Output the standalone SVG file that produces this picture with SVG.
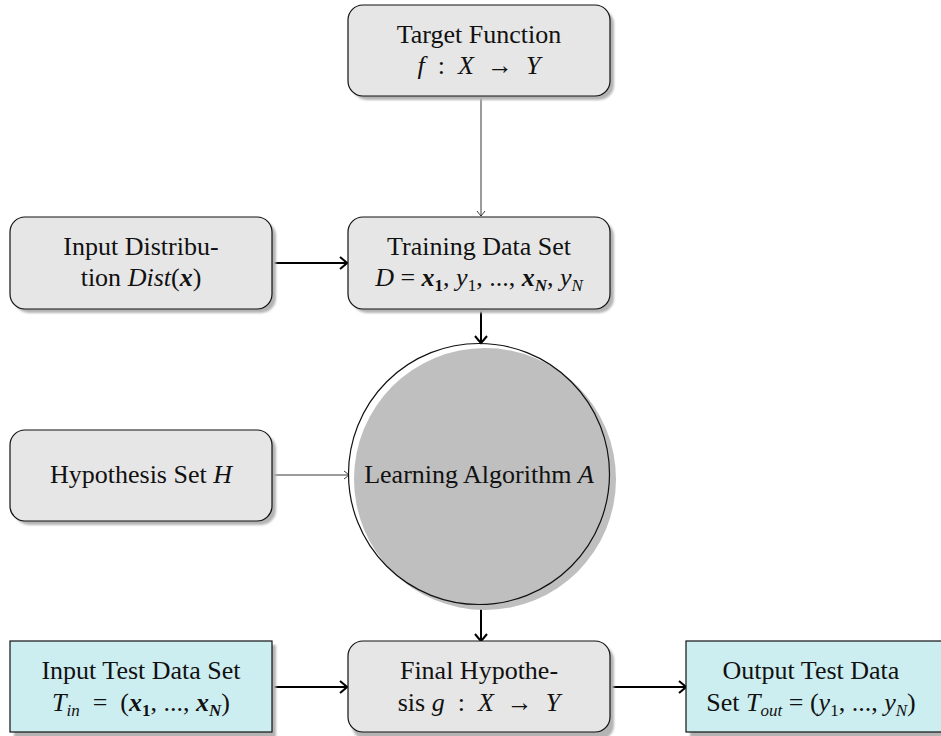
<svg xmlns="http://www.w3.org/2000/svg" width="941" height="736" viewBox="0 0 941 736">
  <defs>
    <style>
      text { font-family: "Liberation Serif", "DejaVu Serif", serif; font-size: 26px; fill: #111; text-anchor: middle; white-space: pre; }
      .it { font-style: italic; }
      .bi { font-style: italic; font-weight: bold; }
      .sub { font-size: 17px; }
      .box { fill: #e6e6e6; stroke: #111; stroke-width: 1.2; }
      .data { fill: #cdeef0; stroke: #111; stroke-width: 1.2; }
      .shadow { fill: #b4b4b4; filter: url(#soft); }
      .thick { stroke: #000; stroke-width: 2; fill: none; }
      .thin { stroke: #222; stroke-width: 0.9; fill: none; }
    </style>
    <filter id="soft" x="-5%" y="-5%" width="110%" height="110%">
      <feGaussianBlur stdDeviation="0.8"/>
    </filter>
    <marker id="headThick" viewBox="-10 -8 12 16" markerWidth="12" markerHeight="16" refX="0" refY="0" orient="auto" markerUnits="userSpaceOnUse">
      <path d="M-7,-6 Q-1.5,-1.5 0,0 Q-1.5,1.5 -7,6" stroke="#000" stroke-width="2" fill="none"/>
    </marker>
    <marker id="headThin" viewBox="-8 -6 10 12" markerWidth="10" markerHeight="12" refX="0" refY="0" orient="auto" markerUnits="userSpaceOnUse">
      <path d="M-5,-4 Q-1,-1 0,0 Q-1,1 -5,4" stroke="#222" stroke-width="0.9" fill="none"/>
    </marker>
  </defs>

  <rect width="941" height="736" fill="#fff"/>

  <!-- connectors -->
  <g id="connectors">
    <line class="thin" x1="481" y1="95" x2="481" y2="216" marker-end="url(#headThin)"/>
    <line class="thick" x1="271" y1="263" x2="347" y2="263" marker-end="url(#headThick)"/>
    <line class="thick" x1="481" y1="308" x2="481" y2="343" marker-end="url(#headThick)"/>
    <line class="thin" x1="271" y1="475" x2="349" y2="475" marker-end="url(#headThin)"/>
    <line class="thick" x1="481" y1="606" x2="481" y2="641" marker-end="url(#headThick)"/>
    <line class="thick" x1="271" y1="687" x2="347" y2="687" marker-end="url(#headThick)"/>
    <line class="thick" x1="610" y1="687" x2="686" y2="687" marker-end="url(#headThick)"/>
  </g>

  <!-- target function -->
  <g id="target">
    <rect class="shadow" x="352" y="9" width="262" height="91" rx="15"/>
    <rect class="box" x="348" y="5" width="262" height="91" rx="15"/>
    <text x="479" y="43">Target Function</text>
    <text x="479" y="74"><tspan class="it">f</tspan>  :  <tspan class="it">X</tspan>  →  <tspan class="it">Y</tspan></text>
  </g>

  <!-- input distribution -->
  <g id="input-distribution">
    <rect class="shadow" x="14" y="221" width="262" height="92" rx="15"/>
    <rect class="box" x="10" y="217" width="262" height="92" rx="15"/>
    <text x="141" y="255">Input Distribu-</text>
    <text x="141" y="286">tion <tspan class="it">Dist</tspan>(<tspan class="bi">x</tspan>)</text>
  </g>

  <!-- training data set -->
  <g id="training">
    <rect class="shadow" x="352" y="221" width="262" height="92" rx="15"/>
    <rect class="box" x="348" y="217" width="262" height="92" rx="15"/>
    <text x="479" y="255">Training Data Set</text>
    <text x="479" y="286"><tspan class="it">D</tspan> = <tspan class="bi">x</tspan><tspan class="sub" font-weight="bold" dy="5">1</tspan><tspan dy="-5">, </tspan><tspan class="it">y</tspan><tspan class="sub" dy="5">1</tspan><tspan dy="-5">, ..., </tspan><tspan class="bi">x</tspan><tspan class="sub bi" dy="5">N</tspan><tspan dy="-5">, </tspan><tspan class="it">y</tspan><tspan class="sub it" dy="5">N</tspan></text>
  </g>

  <!-- hypothesis set -->
  <g id="hypothesis-set">
    <rect class="shadow" x="14" y="434" width="262" height="91" rx="15"/>
    <rect class="box" x="10" y="430" width="262" height="91" rx="15"/>
    <text x="141" y="483">Hypothesis Set <tspan class="it">H</tspan></text>
  </g>

  <!-- learning algorithm -->
  <g id="learning">
    <circle cx="485" cy="479" r="131" fill="#bfbfbf"/>
    <circle cx="479" cy="474" r="130.5" fill="none" stroke="#111" stroke-width="1.2"/>
    <text x="479" y="483">Learning Algorithm <tspan class="it">A</tspan></text>
  </g>

  <!-- input test data -->
  <g id="input-test">
    <rect class="shadow" x="14" y="645" width="262" height="95"/>
    <rect class="data" x="10" y="641" width="262" height="91"/>
    <text x="141" y="679">Input Test Data Set</text>
    <text x="141" y="711"><tspan class="it">T</tspan><tspan class="sub it" dy="5">in</tspan><tspan dy="-5">  =  (</tspan><tspan class="bi">x</tspan><tspan class="sub" font-weight="bold" dy="5">1</tspan><tspan dy="-5">, ..., </tspan><tspan class="bi">x</tspan><tspan class="sub bi" dy="5">N</tspan><tspan dy="-5">)</tspan></text>
  </g>

  <!-- final hypothesis -->
  <g id="final-hypothesis">
    <rect class="shadow" x="352" y="645" width="262" height="95" rx="15"/>
    <rect class="box" x="348" y="641" width="262" height="91" rx="15"/>
    <text x="479" y="679">Final Hypothe-</text>
    <text x="479" y="711">sis <tspan class="it">g</tspan>  :  <tspan class="it">X</tspan>  →  <tspan class="it">Y</tspan></text>
  </g>

  <!-- output test data -->
  <g id="output-test">
    <rect class="shadow" x="690" y="645" width="262" height="95"/>
    <rect class="data" x="686" y="641" width="262" height="91"/>
    <text x="811" y="679">Output Test Data</text>
    <text x="811" y="711">Set <tspan class="it">T</tspan><tspan class="sub it" dy="5">out</tspan><tspan dy="-5"> = (</tspan><tspan class="it">y</tspan><tspan class="sub" dy="5">1</tspan><tspan dy="-5">, ..., </tspan><tspan class="it">y</tspan><tspan class="sub it" dy="5">N</tspan><tspan dy="-5">)</tspan></text>
  </g>
</svg>
